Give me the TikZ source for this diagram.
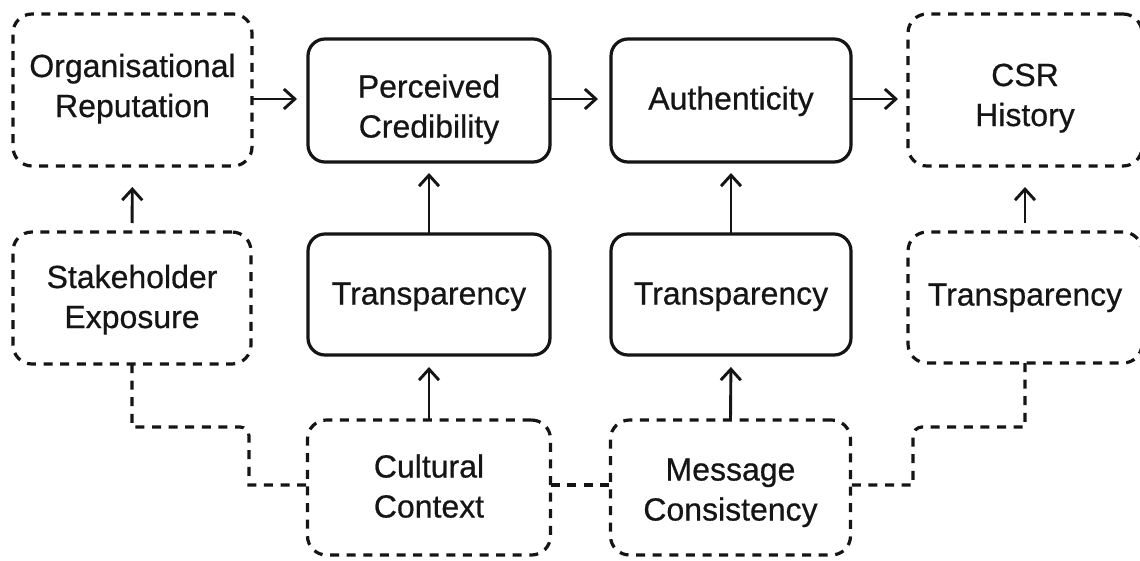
\documentclass[tikz,border=0pt]{standalone}
\usepackage{fontspec}
\setmainfont{Liberation Sans}[FakeBold=0.6]
\usetikzlibrary{arrows.meta}
\definecolor{ink}{HTML}{151515}
% box text, lowered by #1 without changing its reported extent
\newcommand\boxtext[2]{\raisebox{-#1}[\height][\depth]{\begin{tabular}{@{}c@{}}#2\end{tabular}}}
\begin{document}
\begin{tikzpicture}[x=1pt, y=-1pt,
  every node/.style={outer sep=0pt, inner sep=0pt, text=ink,
    font=\fontsize{32}{40}\selectfont, align=center},
  solidbox/.style={draw=ink, line width=3.2pt, rounded corners=17pt},
  dashbox/.style={draw=ink, line width=3.2pt, rounded corners=19pt,
    dash pattern=on 9pt off 7.6pt},
  flow/.style={draw=ink, line width=2.9pt,
    -{Straight Barb[length=11pt, width=20pt, line width=2.9pt]}},
  link/.style={draw=ink, line width=3.2pt, dash pattern=on 9pt off 7.6pt}]
\useasboundingbox[fill=white] (0,0) rectangle (1140,560);

% top row
\node[dashbox,  minimum width=239pt, minimum height=152pt] (org) at (132.5,90)   {\boxtext{-1pt}{Organisational\\Reputation}};
\node[solidbox, minimum width=242pt, minimum height=123pt] (pc)  at (429,100.5)  {\boxtext{9pt}{Perceived\\Credibility}};
\node[solidbox, minimum width=240pt, minimum height=123pt] (au)  at (731,100.5)  {\boxtext{1pt}{Authenticity}};
\node[dashbox,  minimum width=234pt, minimum height=152pt] (csr) at (1025,90)    {\boxtext{8pt}{CSR\\History}};

% middle row
\node[dashbox,  minimum width=238pt, minimum height=132pt] (sh)  at (132,298)    {\boxtext{2pt}{Stakeholder\\Exposure}};
\node[solidbox, minimum width=242pt, minimum height=121pt] (t1)  at (429,294.5)  {\boxtext{2pt}{Transparency}};
\node[solidbox, minimum width=240pt, minimum height=121pt] (t2)  at (731,294.5)  {\boxtext{2pt}{Transparency}};
\node[dashbox,  minimum width=234pt, minimum height=131pt] (t3)  at (1025,297.5) {\boxtext{0pt}{Transparency}};

% bottom row
\node[dashbox,  minimum width=243pt, minimum height=135pt] (cc)  at (429,487.5)  {\boxtext{2pt}{Cultural\\Context}};
\node[dashbox,  minimum width=240pt, minimum height=135pt] (mc)  at (730.5,487.5) {\boxtext{5pt}{Message\\Consistency}};

% levels of the horizontal runs
\coordinate (r1) at (0,99);
\coordinate (l1) at (0,427);
\coordinate (l2) at (0,485);

% arrows along the top row
\draw[flow, shorten >=11pt] (org.east |- r1) -- (pc.west |- r1);
\draw[flow, shorten >=13pt] (pc.east |- r1) -- (au.west |- r1);
\draw[flow, shorten >=10pt] (au.east |- r1) -- (csr.west |- r1);

% upward arrows
\draw[flow, shorten <=9pt, shorten >=21pt] (sh.north) -- (org.south);
\draw[flow, shorten >=11pt] (t1.north) -- (pc.south);
\draw[flow, shorten >=11pt] (t2.north) -- (au.south);
\draw[flow, shorten <=9pt, shorten >=21pt] (t3.north) -- (csr.south);
\draw[flow, shorten >=12pt] (cc.north) -- (t1.south);
\draw[flow, shorten >=12pt] (mc.north) -- (t2.south);

% dashed links along the bottom
\coordinate (kl) at (249,427);
\coordinate (kr) at (913,427);
\draw[link] (sh.south) -- (sh.south |- l1) [rounded corners=9pt] -- (kl) [sharp corners] -- (kl |- l2) -- (cc.west |- l2);
\draw[link] (t3.south) -- (t3.south |- l1) [rounded corners=9pt] -- (kr) [sharp corners] -- (kr |- l2) -- (mc.east |- l2);
\draw[link] (cc.east |- l2) -- (mc.west |- l2);
\end{tikzpicture}
\end{document}
